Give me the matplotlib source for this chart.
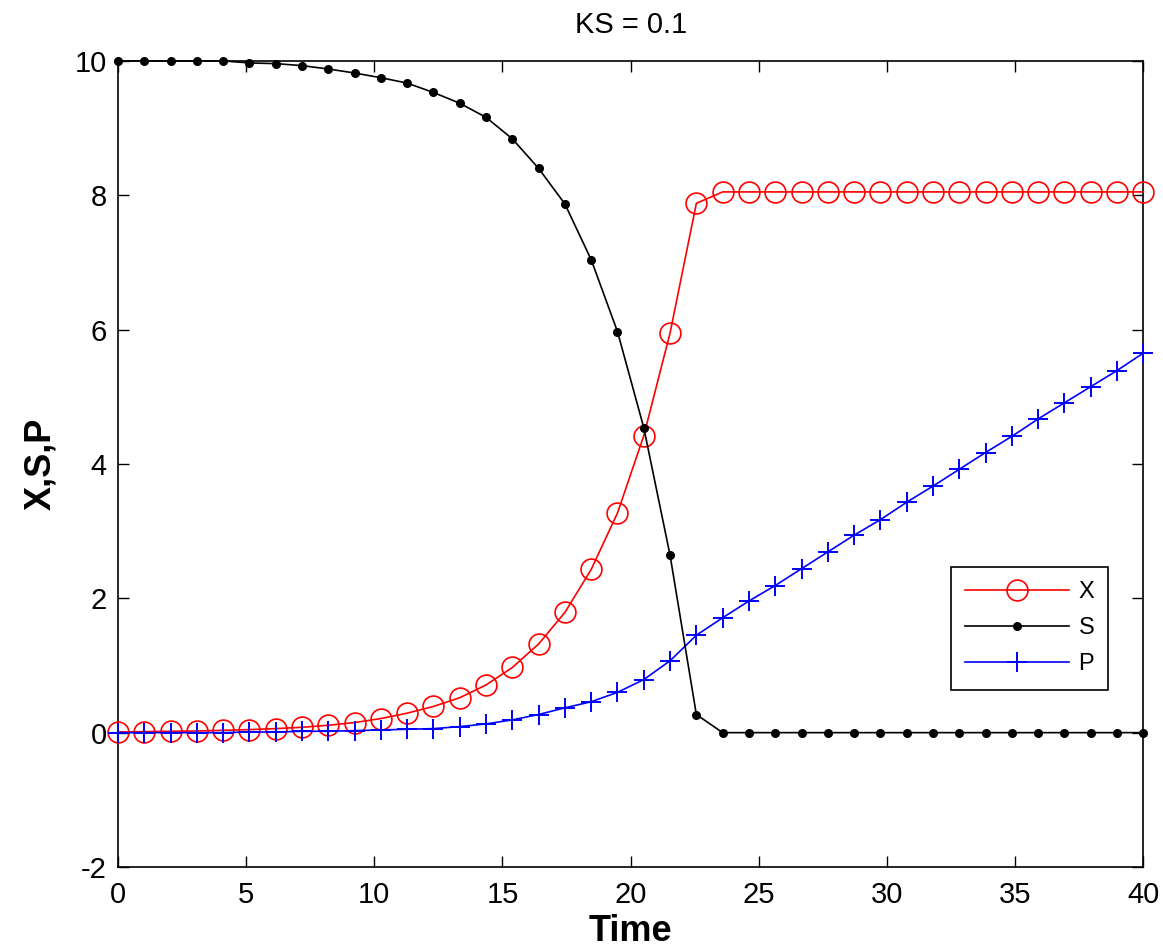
import numpy as np
import matplotlib
matplotlib.use("Agg")
import matplotlib.pyplot as plt

# Data
t = np.linspace(0, 40, 40)
X = [0.01, 0.015, 0.02, 0.025, 0.035, 0.045, 0.06, 0.08, 0.11, 0.15,
     0.21, 0.29, 0.39, 0.52, 0.71, 0.97, 1.32, 1.79, 2.43, 3.27,
     4.42, 5.95, 7.88] + [8.05] * 17
S = [10.0, 10.0, 10.0, 10.0, 10.0, 9.97, 9.96, 9.93, 9.88, 9.82,
     9.75, 9.67, 9.53, 9.37, 9.16, 8.84, 8.40, 7.87, 7.04, 5.97,
     4.54, 2.64, 0.27] + [0.0] * 17
P = [0.0, 0.0, 0.0, 0.0, 0.0, 0.01, 0.01, 0.02, 0.02, 0.03,
     0.04, 0.05, 0.06, 0.09, 0.13, 0.19, 0.27, 0.37, 0.46, 0.60,
     0.79, 1.07, 1.45, 1.71, 1.96, 2.19, 2.44, 2.69, 2.94, 3.17,
     3.43, 3.67, 3.92, 4.17, 4.41, 4.67, 4.91, 5.15, 5.39, 5.65]
xticks = [0, 5, 10, 15, 20, 25, 30, 35, 40]
yticks = [-2, 0, 2, 4, 6, 8, 10]

plt.rcParams['font.family'] = ['Liberation Sans Narrow', 'Liberation Sans', 'DejaVu Sans']
plt.rcParams['axes.unicode_minus'] = False

fig = plt.figure(figsize=(11.63, 9.52), dpi=100)
ax = fig.add_axes([0.1015, 0.0893, 0.8815, 0.8467])

ax.plot(t, X, color='#ff0000', lw=1.2, marker='o', markersize=15,
        markerfacecolor='none', markeredgecolor='#ff0000', mew=1.2,
        label='X', clip_on=False, zorder=3)
ax.plot(t, S, color='black', lw=1.2, marker='.', markersize=11,
        label='S', clip_on=False, zorder=4)
ax.plot(t, P, color='#0000ff', lw=1.2, marker='+', markersize=15, mew=1.4,
        label='P', clip_on=False, zorder=3)

ax.set_xlim(0, 40)
ax.set_ylim(-2, 10)
ax.set_xticks(xticks)
ax.set_yticks(yticks)
ax.tick_params(direction='in', length=8, width=1, top=True, right=True,
               labelsize=21)
ax.tick_params(axis='x', pad=10)
ax.tick_params(axis='y', pad=8)
for sp in ax.spines.values():
    sp.set_linewidth(1.2)

ax.set_title('KS = 0.1', fontsize=21, pad=20)
ax.set_xlabel('Time', fontsize=26, fontweight='bold', labelpad=4)
ax.set_ylabel('X,S,P', fontsize=26, fontweight='bold', labelpad=12)

leg = ax.legend(loc='lower right', bbox_to_anchor=(0.966, 0.22),
                fontsize=17, fancybox=False, framealpha=1,
                edgecolor='black', handlelength=4.4, borderpad=0.6,
                labelspacing=0.6, handletextpad=0.4, borderaxespad=0)
leg.get_frame().set_linewidth(1.2)

fig.savefig('out.png', dpi=100)
